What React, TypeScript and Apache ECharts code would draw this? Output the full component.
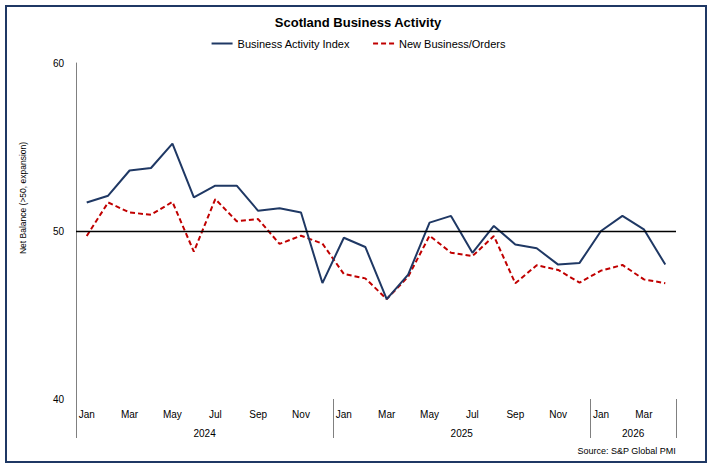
import React, { useEffect, useRef } from "react";
import * as echarts from "echarts";

const months = [
  "Jan", "Feb", "Mar", "Apr", "May", "Jun", "Jul", "Aug", "Sep", "Oct", "Nov", "Dec",
  "Jan", "Feb", "Mar", "Apr", "May", "Jun", "Jul", "Aug", "Sep", "Oct", "Nov", "Dec",
  "Jan", "Feb", "Mar", "Apr",
];
const yearLabels = ["2024", "2025", "2026"];
const yearBounds = [0, 12, 24, 28];

const businessActivity = [
  51.7, 52.1, 53.6, 53.75, 55.2, 52.0, 52.7, 52.7, 51.2, 51.35, 51.1, 46.9,
  49.6, 49.05, 45.95, 47.4, 50.5, 50.9, 48.7, 50.3, 49.2, 48.97, 48.0, 48.1,
  50.0, 50.9, 50.1, 48.0,
];
const newBusiness = [
  49.7, 51.7, 51.1, 50.97, 51.73, 48.77, 51.9, 50.58, 50.71, 49.23, 49.72, 49.25,
  47.44, 47.18, 45.95, 47.28, 49.72, 48.71, 48.51, 49.7, 46.89, 47.96, 47.68, 46.93,
  47.64, 47.98, 47.12, 46.89,
];

const FONT = "'Liberation Sans', Arial, sans-serif";

export default function App() {
  const ref = useRef<HTMLDivElement>(null);
  useEffect(() => {
    document.body.style.margin = "0";
    if (!ref.current) return;
    const chart = echarts.init(ref.current, null, { renderer: "svg" });
    const yearMids = yearLabels.map((_, i) => (yearBounds[i] + yearBounds[i + 1]) / 2);
    chart.setOption({
      animation: false,
      backgroundColor: "#fff",
      textStyle: { fontFamily: FONT },
      title: {
        text: "Scotland Business Activity",
        left: "center",
        top: 11,
        textStyle: { fontSize: 13, fontWeight: "bold", color: "#000", fontFamily: FONT },
      },
      legend: {
        top: 33,
        left: "center",
        itemWidth: 21,
        itemHeight: 10,
        itemGap: 22,
        itemStyle: { opacity: 0 },
        textStyle: { fontSize: 11, color: "#000", fontFamily: FONT },
        data: ["Business Activity Index", "New Business/Orders"],
      },
      grid: { left: 76, right: 40, top: 63, bottom: 70 },
      xAxis: [
        {
          type: "category",
          data: months,
          boundaryGap: true,
          position: "bottom",
          axisLine: { show: false },
          axisTick: { show: false },
          axisLabel: { interval: 1, fontSize: 10, color: "#000", margin: 10, fontFamily: FONT },
          splitLine: { show: false },
        },
        {
          type: "value",
          min: yearBounds[0],
          max: yearBounds[yearBounds.length - 1],
          position: "bottom",
          axisLine: { show: false },
          splitLine: { show: false },
          axisTick: {
            show: true,
            customValues: yearBounds,
            length: 39,
            lineStyle: { color: "#808080", width: 1 },
          },
          axisLabel: {
            show: true,
            customValues: yearMids,
            margin: 29,
            fontSize: 10,
            color: "#000",
            fontFamily: FONT,
            formatter: (v: number) => {
              const idx = yearMids.indexOf(v);
              return idx >= 0 ? yearLabels[idx] : "";
            },
          },
        },
      ],
      yAxis: {
        type: "value",
        min: 40,
        max: 60,
        interval: 10,
        name: "Net Balance (>50, expansion)",
        nameLocation: "middle",
        nameGap: 49,
        nameTextStyle: { fontSize: 8.5, color: "#000", fontFamily: FONT, padding: [0, 0, 0, 66] },
        axisLine: { show: true, lineStyle: { color: "#808080", width: 1 } },
        axisTick: { show: false },
        axisLabel: { fontSize: 10, color: "#000", margin: 12, fontFamily: FONT },
        splitLine: { show: false },
      },
      series: [
        {
          name: "Business Activity Index",
          type: "line",
          data: businessActivity,
          symbol: "none",
          lineStyle: { color: "#1F3864", width: 2 },
          itemStyle: { color: "#1F3864" },
          markLine: {
            silent: true,
            symbol: "none",
            label: { show: false },
            lineStyle: { color: "#000", width: 1.3, type: "solid" },
            data: [{ yAxis: 50 }],
          },
          z: 3,
        },
        {
          name: "New Business/Orders",
          type: "line",
          data: newBusiness,
          symbol: "none",
          lineStyle: { color: "#C00000", width: 2, type: [5, 3] },
          itemStyle: { color: "#C00000" },
          z: 2,
        },
      ],
      graphic: [
        {
          type: "rect",
          shape: { x: 6, y: 6, width: 700, height: 456 },
          style: { fill: "none", stroke: "#1F3864", lineWidth: 2 },
          silent: true,
        },
        {
          type: "text",
          right: 40,
          top: 446,
          style: { text: "Source: S&P Global PMI", fontSize: 9, fill: "#000", fontFamily: FONT },
        },
      ],
    });
    return () => chart.dispose();
  }, []);
  return <div ref={ref} style={{ width: 716, height: 469 }} />;
}
